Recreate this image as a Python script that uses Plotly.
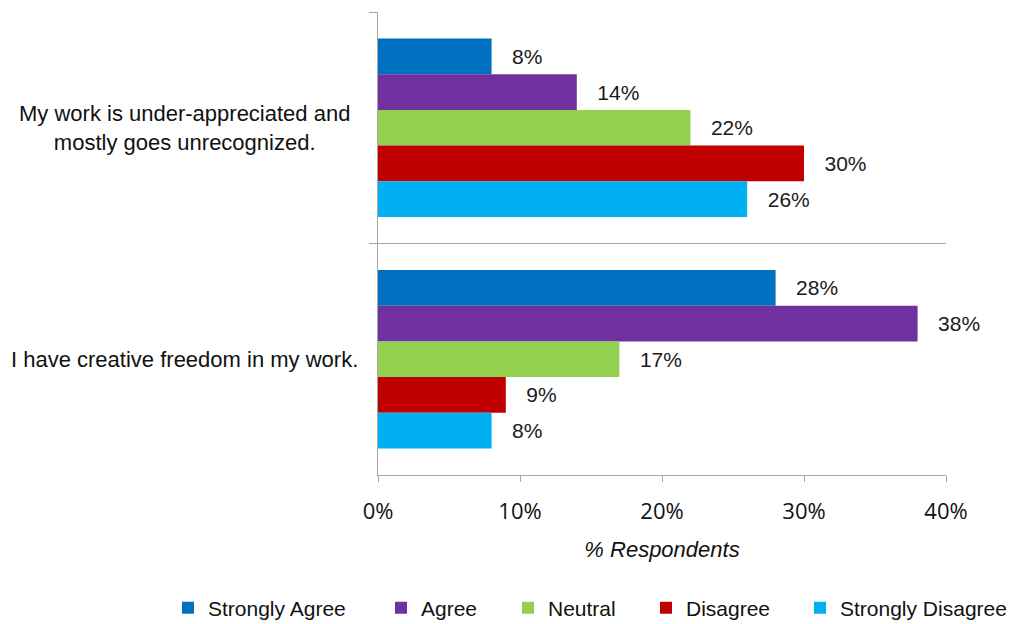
import plotly.graph_objects as go

# Survey statements (top to bottom) and response shares in percent
statements = [
    "My work is under-appreciated and<br>mostly goes unrecognized.",
    "I have creative freedom in my work.",
]
responses = ["Strongly Agree", "Agree", "Neutral", "Disagree", "Strongly Disagree"]
strongly_agree = [8, 28]
agree = [14, 38]
neutral = [22, 17]
disagree = [30, 9]
strongly_disagree = [26, 8]
x_ticks = [0, 10, 20, 30, 40]

series = [strongly_agree, agree, neutral, disagree, strongly_disagree]
colors = ["#0070C0", "#7030A0", "#92D050", "#C00000", "#00B0F0"]

SANS = "Liberation Sans, Arial, sans-serif"
LEFT, RIGHT, TOP, BOTTOM = 378, 69, 12, 149
W, H = 1015, 624
plot_w = W - LEFT - RIGHT
plot_h = H - TOP - BOTTOM

fig = go.Figure()
legend_names = ["legend", "legend2", "legend3", "legend4", "legend5"]
for name, vals, col, lg in zip(responses, series, colors, legend_names):
    fig.add_trace(go.Bar(
        name=name,
        y=statements,
        x=vals,
        orientation="h",
        marker=dict(color=col, line=dict(width=0)),
        text=[f"\u00a0\u00a0\u00a0{v}%" for v in vals],
        textposition="outside",
        textfont=dict(family=SANS, size=21, color="#1a1a1a"),
        cliponaxis=False,
        legend=lg,
    ))

# Statement labels, centred line by line, left of the axis
for s in statements:
    fig.add_annotation(
        x=(184 - LEFT) / plot_w, xref="paper", y=s, yref="y",
        text=s, showarrow=False, xanchor="center", yanchor="middle",
        align="center", font=dict(family=SANS, size=22, color="#111111"),
    )

# One legend per response so each entry sits at its own spot
legend_px = [168, 381, 508, 646, 800]
legend_cfg = {}
for lg, px in zip(legend_names, legend_px):
    legend_cfg[lg] = dict(
        orientation="h", x=(px - LEFT) / plot_w, xanchor="left",
        y=(TOP + plot_h - 608) / plot_h, yanchor="middle",
        font=dict(family=SANS, size=21, color="#111111"),
        bgcolor="rgba(0,0,0,0)", borderwidth=0,
    )

fig.update_layout(
    width=W, height=H,
    margin=dict(l=LEFT, r=RIGHT, t=TOP, b=BOTTOM, autoexpand=False),
    paper_bgcolor="white", plot_bgcolor="white",
    barmode="group", bargap=0.23, bargroupgap=0,
    showlegend=True,
    **legend_cfg,
)

fig.update_xaxes(
    range=[0, 40], tickvals=x_ticks, ticktext=[f"{t}%" for t in x_ticks],
    showgrid=False, zeroline=False,
    showline=True, linecolor="#A6A6A6", linewidth=1,
    ticks="outside", ticklen=6, tickcolor="#A6A6A6",
    ticklabelstandoff=11,
    tickfont=dict(family="Open Sans, Noto Sans, sans-serif", size=22, color="#111111"),
    title=dict(text="<i>% Respondents</i>", standoff=17,
               font=dict(family=SANS, size=22, color="#111111")),
)
fig.update_yaxes(
    type="category", autorange="reversed",
    tickson="boundaries", showticklabels=False,
    showgrid=True, gridcolor="#A6A6A6", gridwidth=1,
    showline=True, linecolor="#A6A6A6", linewidth=1,
    ticks="outside", ticklen=8, tickcolor="#A6A6A6",
    zeroline=False,
)

fig.write_html("out.html")
